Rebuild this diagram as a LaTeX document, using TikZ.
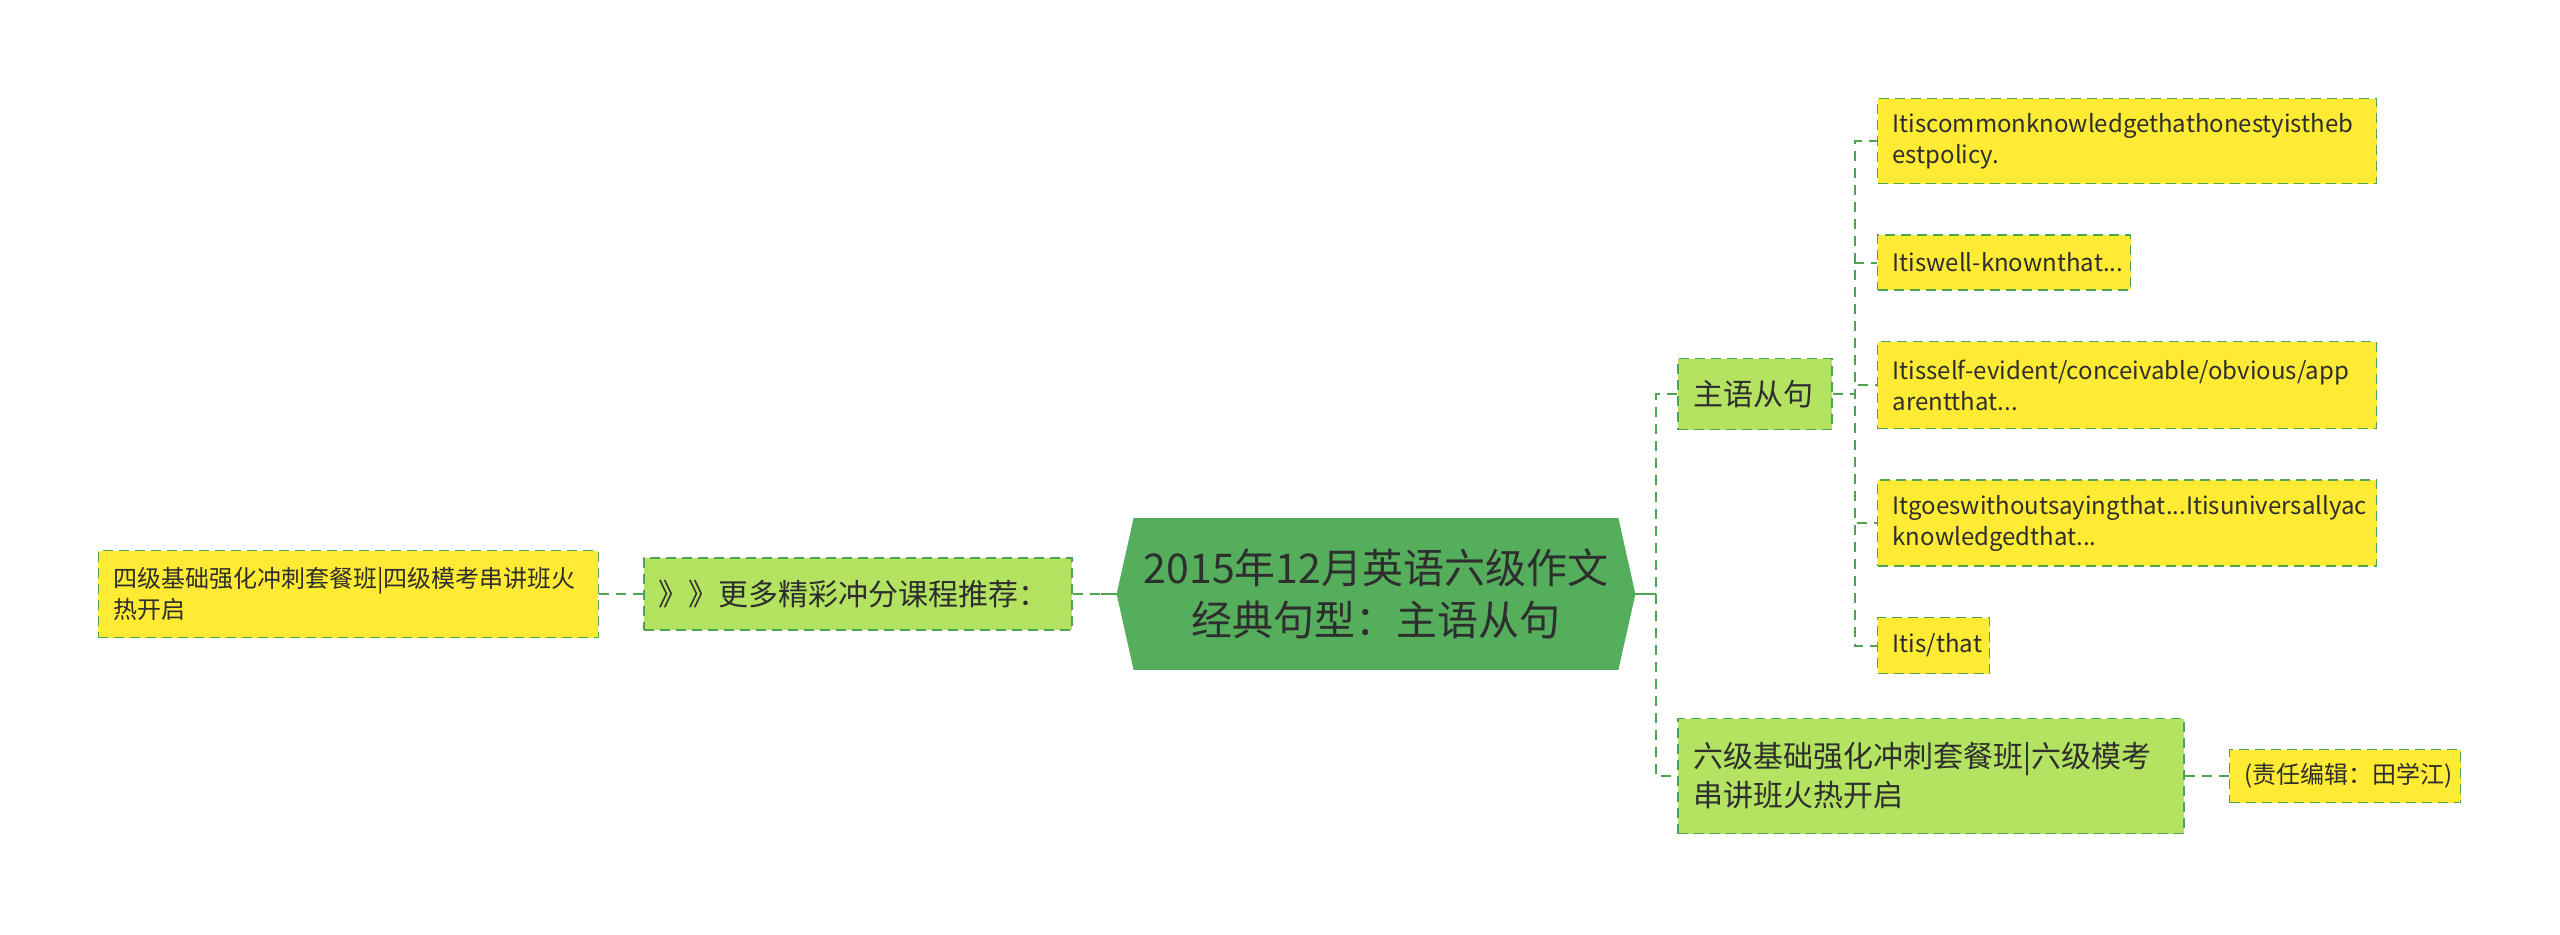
\documentclass[tikz,border=0pt]{standalone}
\usepackage{fontspec}
\setmainfont{Noto Sans CJK SC}
\usetikzlibrary{positioning, backgrounds}
\definecolor{linegreen}{HTML}{4FA452}
\definecolor{rootgreen}{HTML}{54AE5B}
\definecolor{leafyellow}{HTML}{FFEB33}
\definecolor{branchgreen}{HTML}{B3E360}
\definecolor{inkgray}{HTML}{2E2E2E}
\newcommand{\leaffont}{\fontsize{12pt}{15.5pt}\selectfont\exhyphenpenalty=10000 \hyphenpenalty=10000 }
\newcommand{\branchfont}{\fontsize{15pt}{19.5pt}\selectfont}
\newcommand{\rootfont}{\fontsize{20.5pt}{26pt}\selectfont}

\begin{document}
\begin{tikzpicture}[
        text=inkgray,
        link/.style={draw=linegreen, line width=1pt, dash pattern=on 5pt off 3.5pt},
        stem/.style={draw=linegreen, line width=1.2pt},
        leaf/.style={draw=linegreen, line width=0.75pt, dash pattern=on 5pt off 3pt, fill=leafyellow, align=left, text width=#1, inner xsep=7.5pt, inner ysep=3pt, font=\leaffont},
        branch/.style={draw=linegreen, line width=0.75pt, dash pattern=on 5pt off 3pt, fill=branchgreen, align=left, text width=#1, inner xsep=7.5pt, inner ysep=3pt, font=\branchfont},
        root/.style={align=center, minimum width=242pt, minimum height=75.5pt, font=\rootfont}
    ]
        \useasboundingbox (0,0) rectangle (1280pt,-467pt);

        % --- Центральная тема ---
        \node[root] (root) at (688pt,-297pt) {2015年12月英语六级作文\\经典句型：主语从句};
        \coordinate (rootL) at ([xshift=-8.5pt]root.west);
        \coordinate (rootR) at ([xshift=8.5pt]root.east);
        \begin{scope}[on background layer]
            \fill[rootgreen] (root.north west) -- (root.north east) -- (rootR) -- (root.south east) -- (root.south west) -- (rootL) -- cycle;
        \end{scope}

        % --- Левая ветка ---
        \node[branch=199pt, minimum height=36pt, left=22pt of rootL] (more) {》》更多精彩冲分课程推荐：};
        \node[leaf=235pt, minimum height=43.5pt, left=22pt of more] (siji) {四级基础强化冲刺套餐班|四级模考串讲班火\\热开启};
        \draw[link] (more.east) -- (rootL);
        \draw[stem] (rootL) -- ++(-8pt,0);
        \draw[link] (siji.east) -- (more.west);

        % --- Правая ветка ---
        \node[branch=62pt, minimum height=35.5pt, right=21pt of rootR, yshift=100pt] (zhuyu) {主语从句};
        \node[branch=238pt, minimum height=57.5pt, right=21pt of rootR, yshift=-91pt] (liuji) {六级基础强化冲刺套餐班|六级模考\\串讲班火热开启};
        \node[leaf=100.5pt, minimum height=26.5pt, right=22pt of liuji] (zeren) {(责任编辑：田学江)};
        \draw[stem] (rootR) -- ++(10.5pt,0);
        \draw[link] (zhuyu.west) -- ++(-10.5pt,0) |- (liuji.west);
        \draw[link] (liuji.east) -- (zeren.west);

        % --- Примеры предложений ---
        \node[leaf=234.5pt, minimum height=43.5pt, right=22pt of zhuyu, yshift=4.5pt] (s3) {Itisself-evident/conceivable/obvious/app\\arentthat...};
        \node[leaf=111.5pt, minimum height=27.5pt, above=25pt of s3.north west, anchor=south west] (s2) {Itiswell-knownthat...};
        \node[leaf=234.5pt, minimum height=42.5pt, above=25pt of s2.north west, anchor=south west] (s1) {Itiscommonknowledgethathonestyistheb\\estpolicy.};
        \node[leaf=234.5pt, minimum height=43pt, below=25pt of s3.south west, anchor=north west] (s4) {Itgoeswithoutsayingthat...Itisuniversallyac\\knowledgedthat...};
        \node[leaf=41pt, minimum height=28pt, below=25pt of s4.south west, anchor=north west] (s5) {Itis/that};
        \foreach \i in {1,...,5}
            \draw[link] (zhuyu.east) -- ++(11pt,0) |- (s\i.west);
    \end{tikzpicture}
\end{document}
